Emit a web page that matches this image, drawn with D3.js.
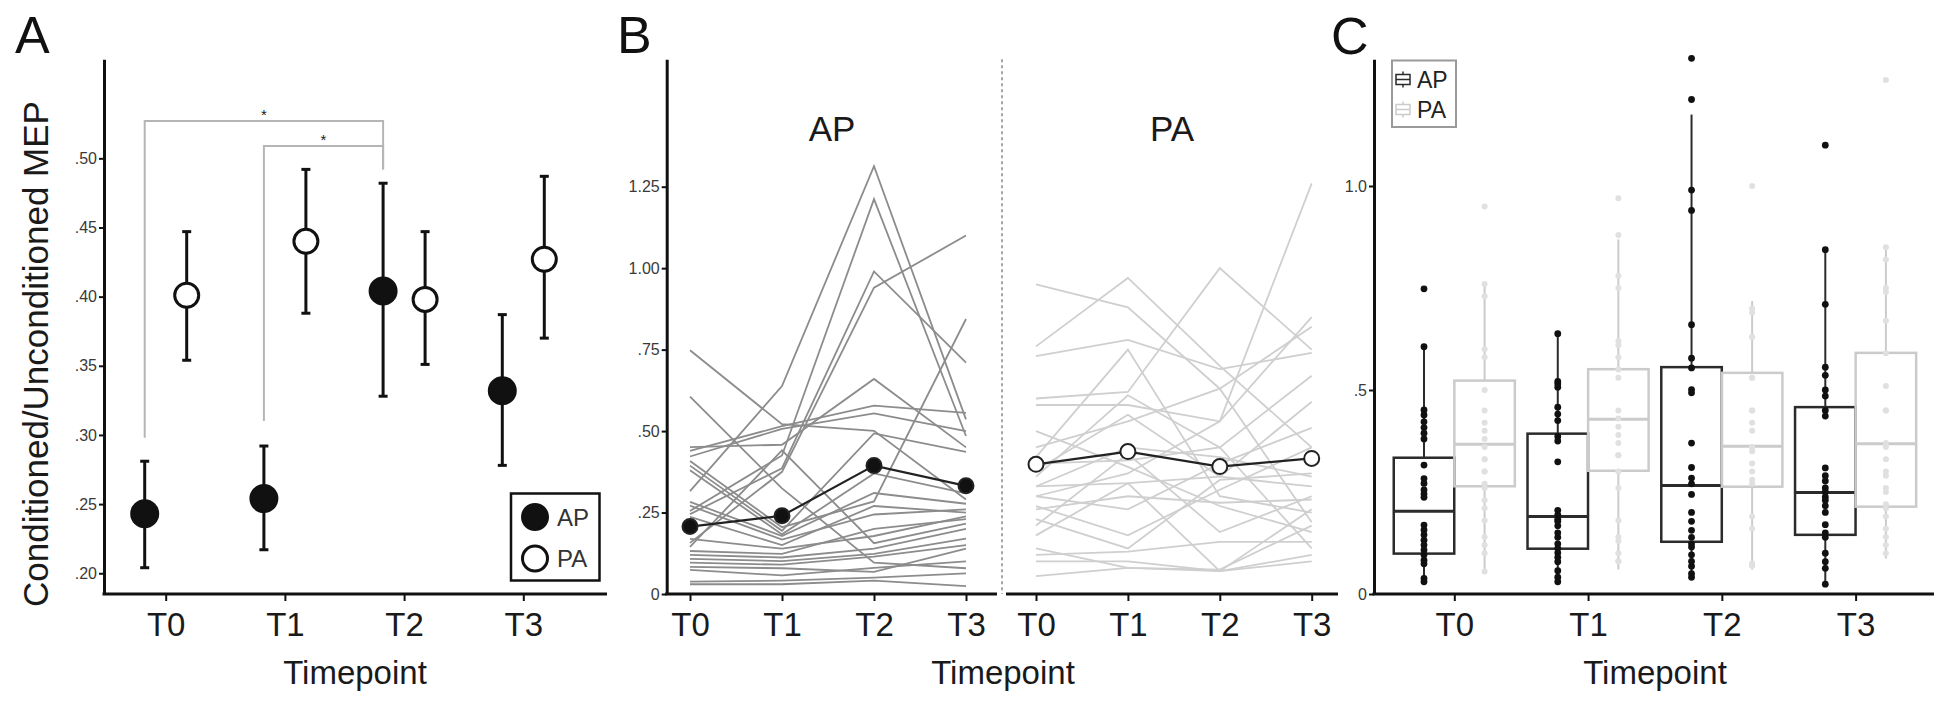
<!DOCTYPE html>
<html><head>
<meta charset="utf-8">
<title>Conditioned/Unconditioned MEP by timepoint</title>
<script src="https://d3js.org/d3.v7.min.js"></script>
<style>
  body { margin: 0; background: #fff; }
  svg text { font-family: "Liberation Sans", Arial, sans-serif; fill: #1a1a1a; }
  .panel-letter { font-size: 52px; fill: #111; }
  .axis-title { font-size: 33px; }
  .facet-title { font-size: 35px; }
</style>
</head>
<body>
<svg id="fig" width="1934" height="702"></svg>

<script>
// ---- data -------------------------------------------------------------
const timepoints = ["T0", "T1", "T2", "T3"];

// Panel A: group means with error bar ends
const apMean = [0.243, 0.254, 0.404, 0.332];
const apLow  = [0.204, 0.217, 0.328, 0.278];
const apHigh = [0.281, 0.292, 0.482, 0.387];
const paMean = [0.401, 0.440, 0.398, 0.427];
const paLow  = [0.354, 0.388, 0.351, 0.370];
const paHigh = [0.447, 0.492, 0.447, 0.487];
const aTicks = [0.20, 0.25, 0.30, 0.35, 0.40, 0.45, 0.50];

// significance brackets (AP comparisons), in data units
const brackets = [
  { from: "T0", to: "T2", top: 0.527, leftEnd: 0.298, rightEnd: 0.492, star: 0.534 },
  { from: "T1", to: "T2", top: 0.509, leftEnd: 0.310, rightEnd: 0.492, star: 0.516 }
];

// Panel B: individual subjects, values at T0..T3
const apSubjects = [
  [0.316, 0.638, 1.313, 0.536],
  [0.255, 0.425, 1.212, 0.485],
  [0.245, 0.386, 0.990, 0.710],
  [0.157, 0.375, 0.940, 1.100],
  [0.748, 0.521, 0.501, 0.290],
  [0.606, 0.324, 0.096, 0.079],
  [0.451, 0.458, 0.660, 0.450],
  [0.439, 0.515, 0.578, 0.556],
  [0.422, 0.507, 0.554, 0.500],
  [0.408, 0.205, 0.284, 0.844],
  [0.394, 0.194, 0.493, 0.436],
  [0.380, 0.183, 0.370, 0.309],
  [0.283, 0.178, 0.310, 0.277],
  [0.271, 0.167, 0.244, 0.260],
  [0.237, 0.150, 0.270, 0.250],
  [0.169, 0.139, 0.178, 0.238],
  [0.145, 0.441, 0.156, 0.216],
  [0.132, 0.123, 0.200, 0.230],
  [0.120, 0.112, 0.139, 0.200],
  [0.108, 0.101, 0.123, 0.170],
  [0.096, 0.090, 0.115, 0.150],
  [0.083, 0.079, 0.068, 0.139],
  [0.074, 0.057, 0.080, 0.100],
  [0.038, 0.041, 0.050, 0.063],
  [0.030, 0.030, 0.041, 0.024]
];
const paSubjects = [
  [0.950, 0.880, 0.630, 0.220],
  [0.760, 0.970, 0.700, 0.450],
  [0.730, 0.780, 0.690, 0.740],
  [0.600, 0.620, 1.000, 0.750],
  [0.580, 0.580, 0.530, 0.850],
  [0.300, 0.370, 0.530, 1.260],
  [0.450, 0.530, 0.630, 0.820],
  [0.400, 0.410, 0.450, 0.670],
  [0.330, 0.340, 0.360, 0.590],
  [0.300, 0.260, 0.400, 0.510],
  [0.270, 0.180, 0.320, 0.450],
  [0.230, 0.140, 0.350, 0.370],
  [0.210, 0.430, 0.190, 0.300],
  [0.180, 0.340, 0.070, 0.260],
  [0.140, 0.080, 0.075, 0.210],
  [0.120, 0.130, 0.160, 0.160],
  [0.100, 0.100, 0.070, 0.120],
  [0.055, 0.080, 0.070, 0.100],
  [0.500, 0.390, 0.270, 0.190],
  [0.360, 0.610, 0.450, 0.140],
  [0.420, 0.750, 0.300, 0.250],
  [0.380, 0.550, 0.360, 0.330],
  [0.330, 0.450, 0.420, 0.360],
  [0.260, 0.300, 0.280, 0.290]
];
const apLineMean = [0.207, 0.240, 0.394, 0.332];
const paLineMean = [0.398, 0.437, 0.391, 0.416];
const bTicks = [0, 0.25, 0.50, 0.75, 1.00, 1.25];

// Panel C: box statistics per timepoint
const apWhiskLo = [0.030, 0.030, 0.041, 0.024];
const apQ1      = [0.099, 0.111, 0.128, 0.145];
const apMed     = [0.203, 0.190, 0.266, 0.249];
const apQ3      = [0.334, 0.393, 0.556, 0.458];
const apWhiskHi = [0.606, 0.638, 1.175, 0.844];
const paWhiskLo = [0.052, 0.060, 0.060, 0.087];
const paQ1      = [0.264, 0.302, 0.263, 0.214];
const paMed     = [0.367, 0.428, 0.362, 0.368];
const paQ3      = [0.523, 0.551, 0.542, 0.591];
const paWhiskHi = [0.759, 0.869, 0.718, 0.847];
const cTicks = [0, 0.5, 1.0];

// ---- layout -----------------------------------------------------------
const svg = d3.select("#fig");
const baseY = 594, topY = 59.3;
const ink = "#111";

function styleAxis(g, size, color) {
  g.attr("font-family", null).attr("font-size", null);
  g.select(".domain").attr("stroke", ink).attr("stroke-width", 3);
  g.selectAll(".tick line").attr("stroke", ink).attr("stroke-width", 2);
  g.selectAll(".tick text").attr("font-size", size).style("fill", color);
}
const fmtA = d => d3.format(".2f")(d).replace(/^0/, "");
const fmtB = d => d === 0 ? "0" : d3.format(".2f")(d).replace(/^0/, "");
const fmtC = d => d === 0 ? "0" : d3.format(".1f")(d).replace(/^0/, "");

function xAxisLine(x1, x2) {
  svg.append("line").attr("x1", x1).attr("x2", x2).attr("y1", baseY).attr("y2", baseY)
    .attr("stroke", ink).attr("stroke-width", 3);
}
function xTicks(scale) {
  const g = svg.append("g").attr("transform", `translate(0,${baseY})`)
    .call(d3.axisBottom(scale).tickSize(7).tickPadding(12));
  g.select(".domain").remove();
  styleAxis(g, 33, "#1a1a1a");
}
function timepointTitle(cx) {
  svg.append("text").attr("class", "axis-title").attr("x", cx).attr("y", 684)
    .attr("text-anchor", "middle").text("Timepoint");
}

// ---- Panel A ----------------------------------------------------------
const xA = d3.scalePoint().domain(timepoints).range([165.7, 523.3]);
const yA = d3.scaleLinear().domain([0.185, 0.5716]).range([baseY, topY]);
const dodgeA = { AP: -21, PA: 21 };

svg.append("text").attr("class", "panel-letter").attr("x", 15).attr("y", 53).text("A");
svg.append("text").attr("class", "axis-title").style("font-size", "35px")
  .attr("transform", "translate(35,354) rotate(-90)")
  .attr("text-anchor", "middle").attr("dominant-baseline", "central")
  .text("Conditioned/Unconditioned MEP");

brackets.forEach(b => {
  const x1 = xA(b.from) + dodgeA.AP, x2 = xA(b.to) + dodgeA.AP;
  svg.append("path")
    .attr("d", `M${x1},${yA(b.leftEnd)}V${yA(b.top)}H${x2}V${yA(b.rightEnd)}`)
    .attr("fill", "none").attr("stroke", "#b5b5b5").attr("stroke-width", 2);
  svg.append("text").attr("x", (x1 + x2) / 2).attr("y", yA(b.star) + 9)
    .attr("text-anchor", "middle").style("font-size", "15px").text("*");
});

const groupsA = [
  { key: "AP", mean: apMean, low: apLow, high: apHigh, fill: ink },
  { key: "PA", mean: paMean, low: paLow, high: paHigh, fill: "#fff" }
];
groupsA.forEach(gr => {
  const g = svg.append("g");
  timepoints.forEach((t, i) => {
    const x = xA(t) + dodgeA[gr.key];
    g.append("line").attr("x1", x).attr("x2", x)
      .attr("y1", yA(gr.low[i])).attr("y2", yA(gr.high[i]))
      .attr("stroke", ink).attr("stroke-width", 3);
    [gr.low[i], gr.high[i]].forEach(v => {
      g.append("line").attr("x1", x - 4.5).attr("x2", x + 4.5)
        .attr("y1", yA(v)).attr("y2", yA(v))
        .attr("stroke", ink).attr("stroke-width", 3);
    });
    g.append("circle").attr("cx", x).attr("cy", yA(gr.mean[i]))
      .attr("r", gr.key === "AP" ? 13 : 12)
      .attr("fill", gr.fill).attr("stroke", ink).attr("stroke-width", 3);
  });
});

const gyA = svg.append("g").attr("transform", "translate(104,0)")
  .call(d3.axisLeft(yA).tickValues(aTicks).tickFormat(fmtA).tickSize(5).tickPadding(2).tickSizeOuter(0));
styleAxis(gyA, 16, "#3a3a3a");
xAxisLine(102.5, 607);
xTicks(xA);
timepointTitle(355);

// legend A
const legA = svg.append("g");
legA.append("rect").attr("x", 511).attr("y", 493.5).attr("width", 88.5).attr("height", 87)
  .attr("fill", "#fff").attr("stroke", ink).attr("stroke-width", 2.5);
groupsA.forEach((gr, i) => {
  legA.append("circle").attr("cx", 535).attr("cy", 517 + i * 41.5).attr("r", 12.5)
    .attr("fill", gr.fill).attr("stroke", ink).attr("stroke-width", 3);
  legA.append("text").attr("x", 557).attr("y", 517 + i * 41.5 + 8.5)
    .style("font-size", "24px").style("fill", "#333").text(gr.key);
});

// ---- Panel B ----------------------------------------------------------
const yB = d3.scaleLinear().domain([0, 1.641]).range([baseY, topY]);
const xB = {
  AP: d3.scalePoint().domain(timepoints).range([690, 966]),
  PA: d3.scalePoint().domain(timepoints).range([1036, 1311.7])
};
svg.append("text").attr("class", "panel-letter").attr("x", 617).attr("y", 53).text("B");

const facets = [
  { key: "AP", subjects: apSubjects, mean: apLineMean, color: "#8c8c8c", fill: ink, cx: 832 },
  { key: "PA", subjects: paSubjects, mean: paLineMean, color: "#cfcfcf", fill: "#fff", cx: 1172 }
];
facets.forEach(f => {
  const x = xB[f.key];
  const line = d3.line().x((d, i) => x(timepoints[i])).y(d => yB(d));
  svg.append("g").selectAll("path").data(f.subjects).join("path")
    .attr("d", line).attr("fill", "none").attr("stroke", f.color).attr("stroke-width", 1.8);
  svg.append("path").datum(f.mean).attr("d", line)
    .attr("fill", "none").attr("stroke", "#222").attr("stroke-width", 2.2);
  svg.append("g").selectAll("circle").data(f.mean).join("circle")
    .attr("cx", (d, i) => x(timepoints[i])).attr("cy", d => yB(d)).attr("r", 7.5)
    .attr("fill", f.fill).attr("stroke", "#222").attr("stroke-width", 2);
  svg.append("text").attr("class", "facet-title").attr("x", f.cx).attr("y", 141)
    .attr("text-anchor", "middle").text(f.key);
  xTicks(x);
});
svg.append("line").attr("x1", 1002).attr("x2", 1002).attr("y1", topY).attr("y2", baseY)
  .attr("stroke", "#888").attr("stroke-width", 1.5).attr("stroke-dasharray", "3,3");

const gyB = svg.append("g").attr("transform", "translate(666.7,0)")
  .call(d3.axisLeft(yB).tickValues(bTicks).tickFormat(fmtB).tickSize(5).tickPadding(2).tickSizeOuter(0));
styleAxis(gyB, 16, "#3a3a3a");
xAxisLine(665.2, 997);
xAxisLine(1006, 1338);
timepointTitle(1003);

// ---- Panel C ----------------------------------------------------------
const yC = d3.scaleLinear().domain([0, 1.3105]).range([baseY, topY]);
const xC = d3.scalePoint().domain(timepoints).range([1454.3, 1855.6]);
const boxW = 60.5;
svg.append("text").attr("class", "panel-letter").attr("x", 1331).attr("y", 54).text("C");

const groupsC = [
  { key: "AP", dx: -30.3, lo: apWhiskLo, q1: apQ1, med: apMed, q3: apQ3, hi: apWhiskHi,
    subjects: apSubjects, stroke: "#2b2b2b", dot: "#111", r: 3.4 },
  { key: "PA", dx: 30.3, lo: paWhiskLo, q1: paQ1, med: paMed, q3: paQ3, hi: paWhiskHi,
    subjects: paSubjects, stroke: "#cbcbcb", dot: "#e0e0e0", r: 3 }
];
groupsC.forEach(gr => {
  const g = svg.append("g");
  timepoints.forEach((t, i) => {
    const cx = xC(t) + gr.dx;
    g.append("line").attr("x1", cx).attr("x2", cx).attr("y1", yC(gr.hi[i])).attr("y2", yC(gr.q3[i]))
      .attr("stroke", gr.stroke).attr("stroke-width", 2);
    g.append("line").attr("x1", cx).attr("x2", cx).attr("y1", yC(gr.q1[i])).attr("y2", yC(gr.lo[i]))
      .attr("stroke", gr.stroke).attr("stroke-width", 2);
    g.append("rect").attr("x", cx - boxW / 2).attr("width", boxW)
      .attr("y", yC(gr.q3[i])).attr("height", yC(gr.q1[i]) - yC(gr.q3[i]))
      .attr("fill", "none").attr("stroke", gr.stroke).attr("stroke-width", 2.5);
    g.append("line").attr("x1", cx - boxW / 2).attr("x2", cx + boxW / 2)
      .attr("y1", yC(gr.med[i])).attr("y2", yC(gr.med[i]))
      .attr("stroke", gr.stroke).attr("stroke-width", 3);
  });
});
groupsC.forEach(gr => {
  const g = svg.append("g");
  timepoints.forEach((t, i) => {
    g.selectAll(null).data(gr.subjects.map(s => s[i])).join("circle")
      .attr("cx", xC(t) + gr.dx).attr("cy", d => yC(d)).attr("r", gr.r).attr("fill", gr.dot);
  });
});

const gyC = svg.append("g").attr("transform", "translate(1374,0)")
  .call(d3.axisLeft(yC).tickValues(cTicks).tickFormat(fmtC).tickSize(5).tickPadding(2).tickSizeOuter(0));
styleAxis(gyC, 16, "#3a3a3a");
xAxisLine(1372.5, 1934);
xTicks(xC);
timepointTitle(1655);

// legend C
const legC = svg.append("g");
legC.append("rect").attr("x", 1392).attr("y", 60.5).attr("width", 64).attr("height", 66.5)
  .attr("fill", "#fff").attr("stroke", "#9a9a9a").attr("stroke-width", 2);
groupsC.forEach((gr, i) => {
  const cy = 79.5 + i * 30;
  legC.append("line").attr("x1", 1403).attr("x2", 1403).attr("y1", cy - 8).attr("y2", cy + 8)
    .attr("stroke", gr.stroke).attr("stroke-width", 1.5);
  legC.append("rect").attr("x", 1396).attr("y", cy - 5).attr("width", 14).attr("height", 10)
    .attr("fill", "#fff").attr("stroke", gr.stroke).attr("stroke-width", 1.5);
  legC.append("line").attr("x1", 1396).attr("x2", 1410).attr("y1", cy).attr("y2", cy)
    .attr("stroke", gr.stroke).attr("stroke-width", 1.5);
  legC.append("text").attr("x", 1417).attr("y", cy + 8.5)
    .style("font-size", "23px").style("fill", "#222").text(gr.key);
});
</script>
</body>
</html>
